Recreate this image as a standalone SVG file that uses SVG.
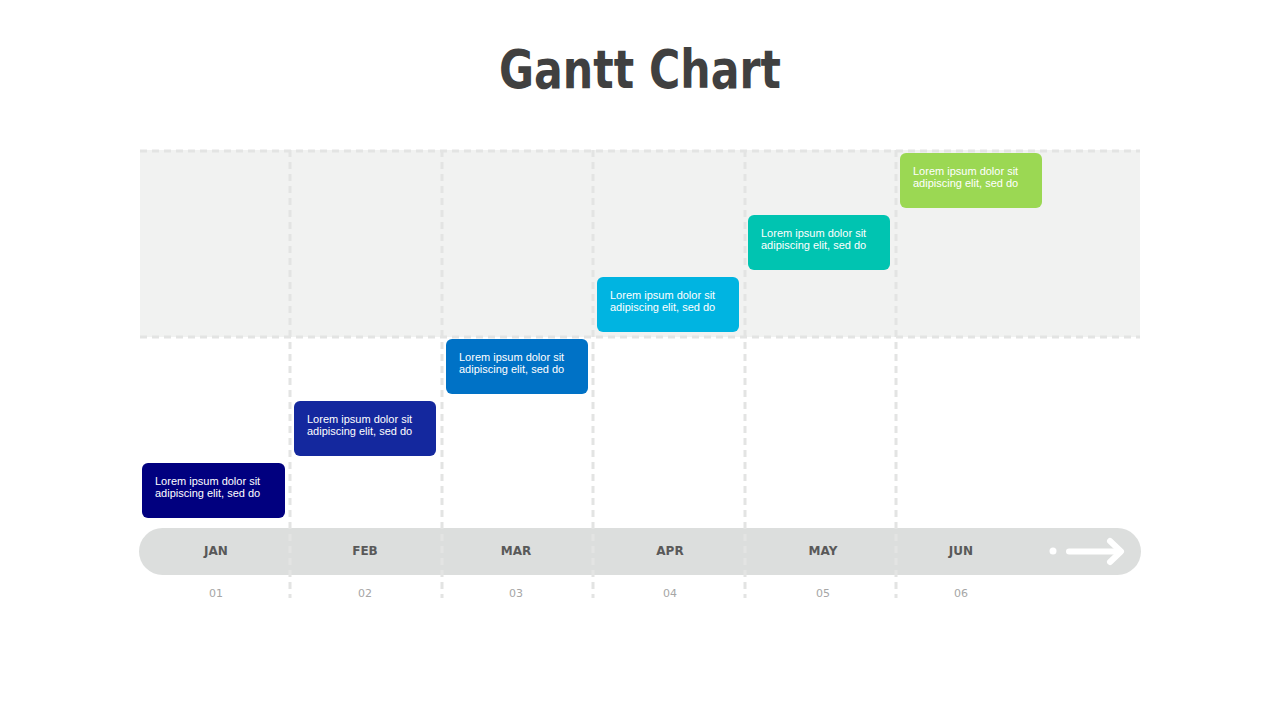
<svg xmlns="http://www.w3.org/2000/svg" width="1280" height="720" viewBox="0 0 1280 720">
<style>
.title{font-family:"DejaVu Sans","Liberation Sans",sans-serif;font-weight:bold;font-size:53px;fill:#404040}
.grid{stroke:#E3E4E3;stroke-width:3;stroke-dasharray:7 5;fill:none}
.box{stroke:none}
.bt{font-family:"Liberation Sans",Arial,sans-serif;font-size:11px;fill:#FFFFFF}
.mon{font-family:"DejaVu Sans","Liberation Sans",sans-serif;font-weight:bold;font-size:12px;fill:#595959;text-anchor:middle}
.num{font-family:"DejaVu Sans","Liberation Sans",sans-serif;font-size:11px;fill:#A6A6A6;text-anchor:middle}
</style>
<rect width="1280" height="720" fill="#FFFFFF"/>
<text class="title" x="640" y="88" text-anchor="middle" textLength="282" lengthAdjust="spacingAndGlyphs">Gantt Chart</text>
<g id="background">
<rect x="140" y="150" width="1000" height="187" fill="#F1F2F1"/>
</g>
<g id="timeline">
<rect x="139" y="528" width="1002" height="47" rx="23.5" fill="#DCDEDD"/>
</g>
<g id="grid">
<line class="grid" x1="140" y1="151" x2="1140" y2="151"/>
<line class="grid" x1="140" y1="337" x2="1140" y2="337"/>
<line class="grid" x1="290" y1="150" x2="290" y2="598"/>
<line class="grid" x1="442" y1="150" x2="442" y2="598"/>
<line class="grid" x1="593" y1="150" x2="593" y2="598"/>
<line class="grid" x1="745" y1="150" x2="745" y2="598"/>
<line class="grid" x1="896" y1="150" x2="896" y2="598"/>
</g>
<g id="arrow">
<circle cx="1053" cy="551" r="3.5" fill="#FFFFFF"/>
<line x1="1069" y1="551.5" x2="1119" y2="551.5" stroke="#FFFFFF" stroke-width="6" stroke-linecap="round"/>
<polyline points="1110,541 1121,551.5 1110,562" fill="none" stroke="#FFFFFF" stroke-width="6" stroke-linecap="round" stroke-linejoin="round"/>
</g>
<g id="months">
<text class="mon" x="216" y="555">JAN</text>
<text class="mon" x="365" y="555">FEB</text>
<text class="mon" x="516" y="555">MAR</text>
<text class="mon" x="670" y="555">APR</text>
<text class="mon" x="823" y="555">MAY</text>
<text class="mon" x="961" y="555">JUN</text>
<text class="num" x="216" y="597">01</text>
<text class="num" x="365" y="597">02</text>
<text class="num" x="516" y="597">03</text>
<text class="num" x="670" y="597">04</text>
<text class="num" x="823" y="597">05</text>
<text class="num" x="961" y="597">06</text>
</g>
<g id="task1">
<rect class="box" x="142" y="463" width="143" height="55" rx="6" fill="#01007F"/>
<text class="bt" x="155" y="485">Lorem ipsum dolor sit</text>
<text class="bt" x="155" y="497">adipiscing elit, sed do</text>
</g>
<g id="task2">
<rect class="box" x="294" y="401" width="142" height="55" rx="6" fill="#14289E"/>
<text class="bt" x="307" y="423">Lorem ipsum dolor sit</text>
<text class="bt" x="307" y="435">adipiscing elit, sed do</text>
</g>
<g id="task3">
<rect class="box" x="446" y="339" width="142" height="55" rx="6" fill="#0072C6"/>
<text class="bt" x="459" y="361">Lorem ipsum dolor sit</text>
<text class="bt" x="459" y="373">adipiscing elit, sed do</text>
</g>
<g id="task4">
<rect class="box" x="597" y="277" width="142" height="55" rx="6" fill="#00B4E1"/>
<text class="bt" x="610" y="299">Lorem ipsum dolor sit</text>
<text class="bt" x="610" y="311">adipiscing elit, sed do</text>
</g>
<g id="task5">
<rect class="box" x="748" y="215" width="142" height="55" rx="6" fill="#00C4B1"/>
<text class="bt" x="761" y="237">Lorem ipsum dolor sit</text>
<text class="bt" x="761" y="249">adipiscing elit, sed do</text>
</g>
<g id="task6">
<rect class="box" x="900" y="153" width="142" height="55" rx="6" fill="#9BD853"/>
<text class="bt" x="913" y="175">Lorem ipsum dolor sit</text>
<text class="bt" x="913" y="187">adipiscing elit, sed do</text>
</g>
</svg>
